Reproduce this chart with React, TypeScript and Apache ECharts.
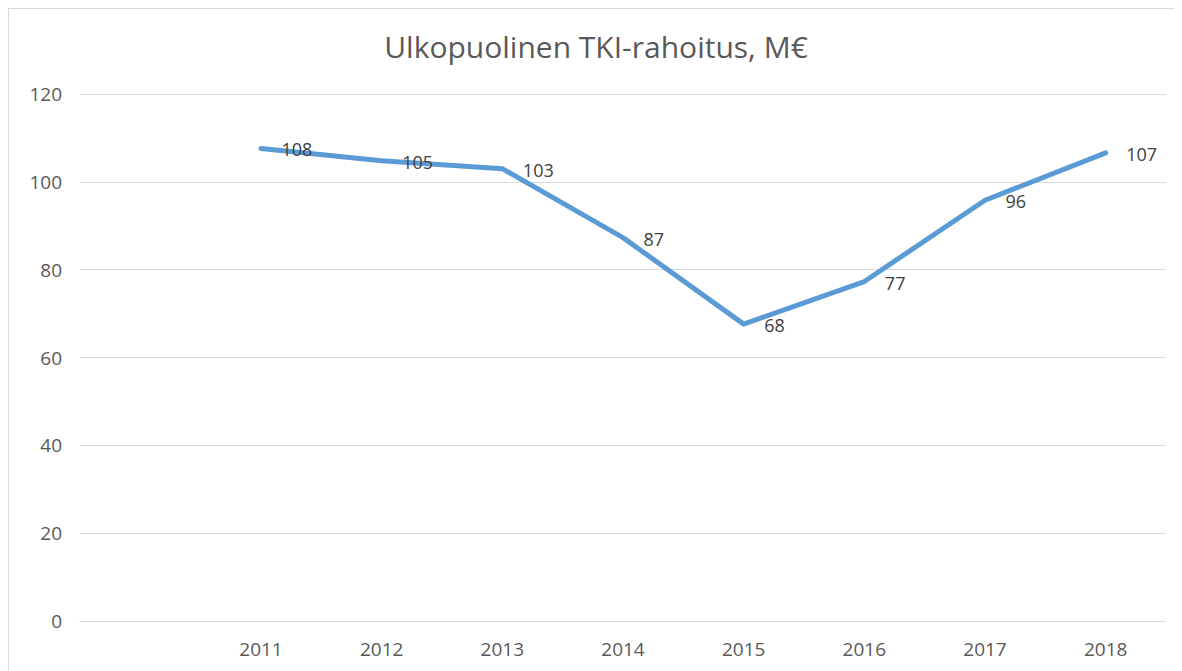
import React, { useEffect, useRef } from "react";
import * as echarts from "echarts";

const title = "Ulkopuolinen TKI-rahoitus, M€";
const categories = ["", "2011", "2012", "2013", "2014", "2015", "2016", "2017", "2018"];
const values: (number | string)[] = ["-", 107.6, 104.8, 103.0, 87.3, 67.6, 77.3, 95.8, 106.6];
const labels: string[] = ["", "108", "105", "103", "87", "68", "77", "96", "107"];

export default function App() {
  const ref = useRef<HTMLDivElement>(null);
  useEffect(() => {
    if (!ref.current) return;
    const chart = echarts.init(ref.current, null, { renderer: "svg" });
    const font = "'Open Sans', 'Noto Sans', sans-serif";
    chart.setOption({
      animation: false,
      title: {
        text: title,
        left: "center",
        top: 17,
        textStyle: { fontFamily: font, fontSize: 30, fontWeight: "normal", color: "#595959" },
      },
      grid: { left: 71, right: 17, top: 85, bottom: 51 },
      xAxis: {
        type: "category",
        data: categories,
        boundaryGap: true,
        axisTick: { show: false },
        axisLine: { lineStyle: { color: "#d9d9d9", width: 1 } },
        axisLabel: { color: "#595959", fontSize: 19, fontFamily: font, margin: 18 },
      },
      yAxis: {
        type: "value",
        min: 0,
        max: 120,
        interval: 20,
        axisLine: { show: false },
        axisTick: { show: false },
        splitLine: { lineStyle: { color: "#d9d9d9", width: 1 } },
        axisLabel: { color: "#595959", fontSize: 19, fontFamily: font, margin: 18 },
      },
      series: [
        {
          type: "line",
          data: values,
          symbol: "circle",
          symbolSize: 1,
          itemStyle: { color: "rgba(0,0,0,0)" },
          lineStyle: { color: "#5B9BD5", width: 5, cap: "round", join: "round" },
          label: {
            show: true,
            position: "right",
            distance: 20,
            offset: [0, 1],
            color: "#404040",
            fontSize: 18,
            fontFamily: font,
            formatter: (p: any) => labels[p.dataIndex],
          },
        },
      ],
    });
    return () => chart.dispose();
  }, []);
  return (
    <div
      style={{
        width: 1174,
        height: 663,
        borderTop: "1px solid #d9d9d9",
        borderLeft: "1px solid #d9d9d9",
        background: "#fff",
      }}
    >
      <div ref={ref} style={{ width: 1174, height: 663 }} />
    </div>
  );
}
